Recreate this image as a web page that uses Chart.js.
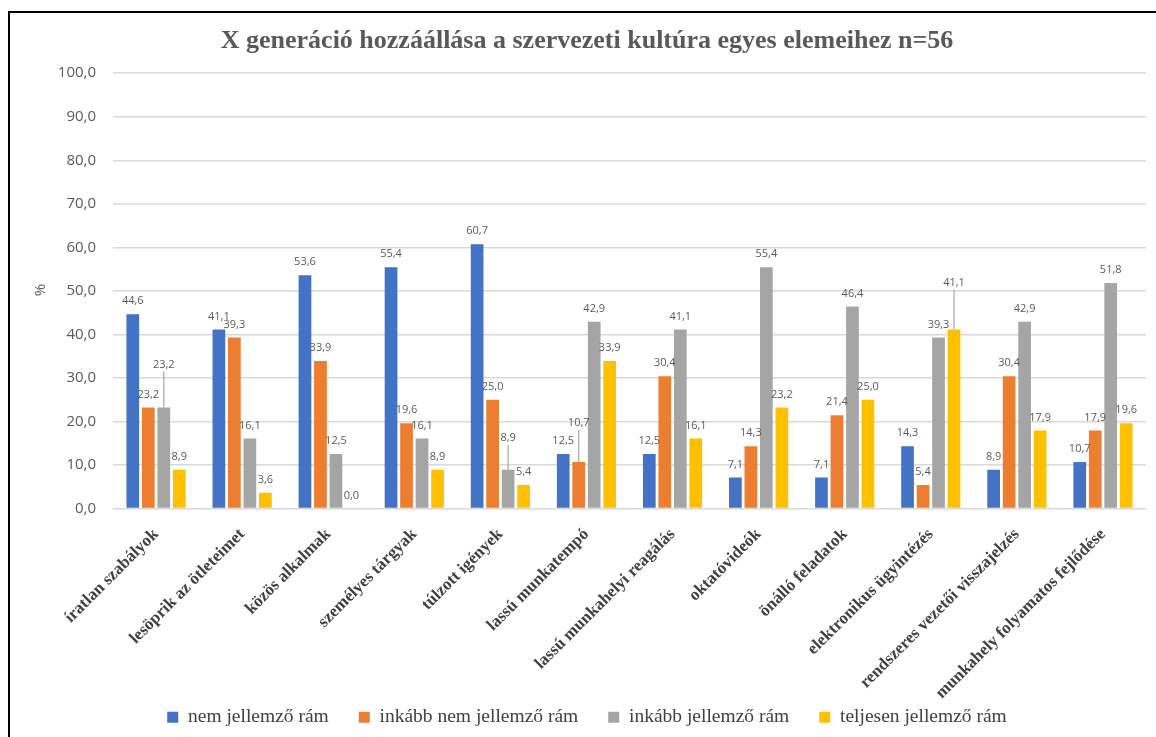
<!DOCTYPE html>
<html>
<head>
<meta charset="utf-8">
<script src="https://cdn.jsdelivr.net/npm/chart.js@4.4.1/dist/chart.umd.min.js"></script>
<style>
  html, body { margin: 0; padding: 0; background: #fff; }
  #wrap { width: 1156px; height: 737px; position: relative; }
</style>
</head>
<body>
<div id="wrap"><canvas id="c" width="1156" height="737"></canvas></div>
<script>
const categories = [
  "íratlan szabályok",
  "lesöprik az ötleteimet",
  "közös alkalmak",
  "személyes tárgyak",
  "túlzott igények",
  "lassú munkatempó",
  "lassú munkahelyi reagálás",
  "oktatóvideók",
  "önálló feladatok",
  "elektronikus ügyintézés",
  "rendszeres vezetői visszajelzés",
  "munkahely folyamatos fejlődése"
];
const seriesNames = ["nem jellemző rám", "inkább nem jellemző rám", "inkább jellemző rám", "teljesen jellemző rám"];
const nemJellemzo        = [44.6, 41.1, 53.6, 55.4, 60.7, 12.5, 12.5, 7.1, 7.1, 14.3, 8.9, 10.7];
const inkabbNemJellemzo  = [23.2, 39.3, 33.9, 19.6, 25.0, 10.7, 30.4, 14.3, 21.4, 5.4, 30.4, 17.9];
const inkabbJellemzo     = [23.2, 16.1, 12.5, 16.1, 8.9, 42.9, 41.1, 55.4, 46.4, 39.3, 42.9, 51.8];
const teljesenJellemzo   = [8.9, 3.6, 0.0, 8.9, 5.4, 33.9, 16.1, 23.2, 25.0, 41.1, 17.9, 19.6];
const yTicks = [0, 10, 20, 30, 40, 50, 60, 70, 80, 90, 100];

const colors = ["#4472C4", "#ED7D31", "#A5A5A5", "#FFC000"];
// label placement tweaks (style only): dataset-index -> extra vertical lift in px, with leader line
const labelLift = { "2-0": 30, "2-4": 19, "1-5": 26, "3-9": 34 };

const fmt = v => v.toFixed(1).replace('.', ',');

const frame = {
  id: 'frame',
  beforeDraw(chart) {
    const ctx = chart.ctx;
    ctx.save();
    ctx.fillStyle = '#fff';
    ctx.fillRect(0, 0, chart.width, chart.height);
    ctx.strokeStyle = '#000';
    ctx.lineWidth = 2;
    ctx.beginPath();
    ctx.moveTo(9, chart.height);
    ctx.lineTo(9, 12);
    ctx.lineTo(chart.width, 12);
    ctx.stroke();
    ctx.restore();
  }
};

// let the rotated category labels run below the axis box (they sit beside the legend area)
const unclipX = {
  id: 'unclipX',
  afterLayout(chart) {
    const x = chart.scales.x;
    x.bottom = chart.height;
  }
};

const valueLabels = {
  id: 'valueLabels',
  afterDatasetsDraw(chart) {
    const ctx = chart.ctx;
    ctx.save();
    ctx.font = '11px "Open Sans", sans-serif';
    ctx.fillStyle = '#595959';
    ctx.textAlign = 'center';
    ctx.textBaseline = 'middle';
    chart.data.datasets.forEach((ds, di) => {
      const meta = chart.getDatasetMeta(di);
      meta.data.forEach((bar, i) => {
        const lift = labelLift[di + '-' + i] || 0;
        const y = bar.y - 13 - lift;
        if (lift) {
          ctx.strokeStyle = '#A6A6A6';
          ctx.lineWidth = 1.2;
          ctx.beginPath();
          ctx.moveTo(bar.x, y + 7);
          ctx.lineTo(bar.x, bar.y);
          ctx.stroke();
        }
        ctx.fillText(fmt(ds.data[i]), bar.x, y);
      });
    });
    ctx.restore();
  }
};

const yTitle = {
  id: 'yTitle',
  afterDraw(chart) {
    const ctx = chart.ctx;
    ctx.save();
    ctx.font = '15px "Open Sans", sans-serif';
    ctx.fillStyle = '#595959';
    ctx.translate(41, 290);
    ctx.rotate(-Math.PI / 2);
    ctx.textAlign = 'center';
    ctx.textBaseline = 'middle';
    ctx.fillText('%', 0, 0);
    ctx.restore();
  }
};

new Chart(document.getElementById('c'), {
  type: 'bar',
  data: {
    labels: categories,
    datasets: [nemJellemzo, inkabbNemJellemzo, inkabbJellemzo, teljesenJellemzo].map((d, k) => ({
      label: seriesNames[k],
      data: d,
      backgroundColor: colors[k],
      borderWidth: 0,
      categoryPercentage: 0.72,
      barPercentage: 0.82
    }))
  },
  options: {
    responsive: false,
    animation: false,
    devicePixelRatio: 1,
    layout: { padding: { left: 28, right: 10, top: 0, bottom: 0 } },
    plugins: {
      title: {
        display: true,
        text: 'X generáció hozzáállása a szervezeti kultúra egyes elemeihez n=56',
        font: { family: '"Liberation Serif", serif', size: 26, weight: 'bold' },
        color: '#595959',
        padding: { top: 26, bottom: 16 }
      },
      legend: {
        position: 'bottom',
        labels: {
          font: { family: '"Liberation Serif", serif', size: 19.5 },
          color: '#404040',
          boxWidth: 11,
          boxHeight: 11,
          padding: 30
        }
      },
      tooltip: { enabled: false }
    },
    scales: {
      x: {
        grid: { display: false },
        border: { display: false },
        ticks: {
          color: '#404040',
          font: { family: '"Liberation Serif", serif', size: 17, weight: 'bold' },
          maxRotation: 45,
          minRotation: 45,
          autoSkip: false,
          padding: 8
        },
        afterFit(scale) { scale.height = 169; }
      },
      y: {
        min: 0,
        max: 100,
        afterBuildTicks(scale) { scale.ticks = yTicks.map(v => ({ value: v })); },
        grid: { color: '#D9D9D9', lineWidth: 1.5, drawTicks: false },
        border: { display: false },
        ticks: {
          color: '#595959',
          font: { family: '"Open Sans", sans-serif', size: 15 },
          padding: 17,
          callback: v => fmt(v)
        },
        afterFit(scale) { scale.width = 85; }
      }
    }
  },
  plugins: [frame, unclipX, valueLabels, yTitle]
});
</script>
</body>
</html>
